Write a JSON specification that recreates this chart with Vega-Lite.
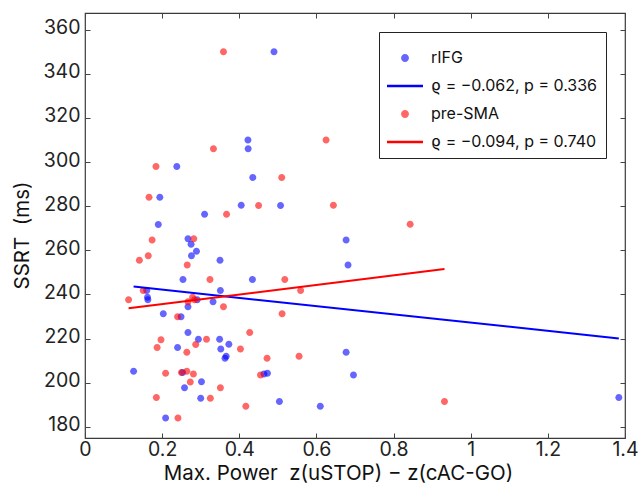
{
  "$schema": "https://vega.github.io/schema/vega-lite/v6.json",
  "width": 540,
  "height": 425,
  "autosize": {"type": "none"},
  "padding": {"left": 85, "top": 13, "right": 13, "bottom": 54},
  "background": "white",
  "config": {
    "font": "Inter",
    "view": {"stroke": "#3a3a3a", "strokeWidth": 1.2},
    "axis": {"grid": false, "domain": false, "tickSize": -5, "tickColor": "#444", "tickWidth": 1, "labelColor": "#222", "titleColor": "#111", "titleFontWeight": "normal", "labelFont": "Inter", "titleFont": "Inter"}
  },
  "layer": [
    {
      "data": {"values": [
        {"x": 0.490, "y": 350, "series": "rIFG"},
        {"x": 0.4225, "y": 310, "series": "rIFG"},
        {"x": 0.423, "y": 306, "series": "rIFG"},
        {"x": 0.238, "y": 298, "series": "rIFG"},
        {"x": 0.435, "y": 293, "series": "rIFG"},
        {"x": 0.194, "y": 284, "series": "rIFG"},
        {"x": 0.405, "y": 280.4, "series": "rIFG"},
        {"x": 0.507, "y": 280.3, "series": "rIFG"},
        {"x": 0.310, "y": 276.3, "series": "rIFG"},
        {"x": 0.190, "y": 271.7, "series": "rIFG"},
        {"x": 0.267, "y": 265.3, "series": "rIFG"},
        {"x": 0.275, "y": 262.8, "series": "rIFG"},
        {"x": 0.289, "y": 259.6, "series": "rIFG"},
        {"x": 0.276, "y": 257.5, "series": "rIFG"},
        {"x": 0.350, "y": 255.5, "series": "rIFG"},
        {"x": 0.254, "y": 246.8, "series": "rIFG"},
        {"x": 0.434, "y": 246.8, "series": "rIFG"},
        {"x": 0.160, "y": 241.8, "series": "rIFG"},
        {"x": 0.351, "y": 241.8, "series": "rIFG"},
        {"x": 0.162, "y": 238.7, "series": "rIFG"},
        {"x": 0.163, "y": 237.6, "series": "rIFG"},
        {"x": 0.291, "y": 237.6, "series": "rIFG"},
        {"x": 0.332, "y": 236.7, "series": "rIFG"},
        {"x": 0.267, "y": 234.4, "series": "rIFG"},
        {"x": 0.203, "y": 231.3, "series": "rIFG"},
        {"x": 0.249, "y": 229.9, "series": "rIFG"},
        {"x": 0.267, "y": 222.8, "series": "rIFG"},
        {"x": 0.294, "y": 219.7, "series": "rIFG"},
        {"x": 0.349, "y": 219.7, "series": "rIFG"},
        {"x": 0.373, "y": 217.5, "series": "rIFG"},
        {"x": 0.240, "y": 216.0, "series": "rIFG"},
        {"x": 0.352, "y": 215.3, "series": "rIFG"},
        {"x": 0.677, "y": 213.8, "series": "rIFG"},
        {"x": 0.366, "y": 212.0, "series": "rIFG"},
        {"x": 0.363, "y": 211.1, "series": "rIFG"},
        {"x": 0.126, "y": 205.2, "series": "rIFG"},
        {"x": 0.253, "y": 204.7, "series": "rIFG"},
        {"x": 0.464, "y": 204.0, "series": "rIFG"},
        {"x": 0.473, "y": 204.3, "series": "rIFG"},
        {"x": 0.696, "y": 203.5, "series": "rIFG"},
        {"x": 0.302, "y": 200.5, "series": "rIFG"},
        {"x": 0.258, "y": 197.8, "series": "rIFG"},
        {"x": 0.300, "y": 193.0, "series": "rIFG"},
        {"x": 0.504, "y": 191.5, "series": "rIFG"},
        {"x": 0.610, "y": 189.4, "series": "rIFG"},
        {"x": 0.209, "y": 184.1, "series": "rIFG"},
        {"x": 0.677, "y": 264.7, "series": "rIFG"},
        {"x": 0.682, "y": 253.4, "series": "rIFG"},
        {"x": 1.384, "y": 193.4, "series": "rIFG"},
        {"x": 0.359, "y": 350, "series": "pre-SMA"},
        {"x": 0.333, "y": 306, "series": "pre-SMA"},
        {"x": 0.625, "y": 310, "series": "pre-SMA"},
        {"x": 0.184, "y": 298, "series": "pre-SMA"},
        {"x": 0.510, "y": 293, "series": "pre-SMA"},
        {"x": 0.166, "y": 284, "series": "pre-SMA"},
        {"x": 0.450, "y": 280.3, "series": "pre-SMA"},
        {"x": 0.644, "y": 280.4, "series": "pre-SMA"},
        {"x": 0.367, "y": 276.3, "series": "pre-SMA"},
        {"x": 0.843, "y": 271.8, "series": "pre-SMA"},
        {"x": 0.282, "y": 265.3, "series": "pre-SMA"},
        {"x": 0.174, "y": 264.7, "series": "pre-SMA"},
        {"x": 0.141, "y": 255.5, "series": "pre-SMA"},
        {"x": 0.164, "y": 257.5, "series": "pre-SMA"},
        {"x": 0.265, "y": 253.4, "series": "pre-SMA"},
        {"x": 0.324, "y": 246.8, "series": "pre-SMA"},
        {"x": 0.518, "y": 246.8, "series": "pre-SMA"},
        {"x": 0.151, "y": 241.8, "series": "pre-SMA"},
        {"x": 0.559, "y": 241.8, "series": "pre-SMA"},
        {"x": 0.113, "y": 237.6, "series": "pre-SMA"},
        {"x": 0.279, "y": 238.7, "series": "pre-SMA"},
        {"x": 0.284, "y": 237.6, "series": "pre-SMA"},
        {"x": 0.267, "y": 236.7, "series": "pre-SMA"},
        {"x": 0.359, "y": 234.4, "series": "pre-SMA"},
        {"x": 0.511, "y": 231.3, "series": "pre-SMA"},
        {"x": 0.240, "y": 229.9, "series": "pre-SMA"},
        {"x": 0.427, "y": 222.8, "series": "pre-SMA"},
        {"x": 0.197, "y": 219.5, "series": "pre-SMA"},
        {"x": 0.315, "y": 219.7, "series": "pre-SMA"},
        {"x": 0.287, "y": 217.4, "series": "pre-SMA"},
        {"x": 0.187, "y": 216.0, "series": "pre-SMA"},
        {"x": 0.403, "y": 215.3, "series": "pre-SMA"},
        {"x": 0.264, "y": 213.8, "series": "pre-SMA"},
        {"x": 0.472, "y": 211.1, "series": "pre-SMA"},
        {"x": 0.555, "y": 212.0, "series": "pre-SMA"},
        {"x": 0.209, "y": 204.3, "series": "pre-SMA"},
        {"x": 0.250, "y": 204.7, "series": "pre-SMA"},
        {"x": 0.264, "y": 205.2, "series": "pre-SMA"},
        {"x": 0.281, "y": 204.0, "series": "pre-SMA"},
        {"x": 0.455, "y": 203.5, "series": "pre-SMA"},
        {"x": 0.273, "y": 200.4, "series": "pre-SMA"},
        {"x": 0.351, "y": 197.8, "series": "pre-SMA"},
        {"x": 0.185, "y": 193.4, "series": "pre-SMA"},
        {"x": 0.325, "y": 193.0, "series": "pre-SMA"},
        {"x": 0.417, "y": 189.4, "series": "pre-SMA"},
        {"x": 0.241, "y": 184.1, "series": "pre-SMA"},
        {"x": 0.932, "y": 191.5, "series": "pre-SMA"}
      ]},
      "mark": {"type": "point", "filled": true, "opacity": 1, "size": 1012, "strokeWidth": 0},
      "encoding": {
        "x": {"field": "x", "type": "quantitative",
          "scale": {"domain": [0, 1.4], "nice": false, "zero": false},
          "axis": {"orient": "bottom", "values": [0, 0.2, 0.4, 0.6, 0.8, 1, 1.2, 1.4], "format": "~g", "labelFontSize": 19.5, "labelPadding": 7, "labelFlush": false, "title": "Max. Power\u00a0\u00a0z(uSTOP) − z(cAC-GO)", "titleFontSize": 20.5, "titlePadding": 5, "titleX": 253}},
        "y": {"field": "y", "type": "quantitative",
          "scale": {"domain": [175, 367.5], "nice": false, "zero": false},
          "axis": {"orient": "left", "values": [180, 200, 220, 240, 260, 280, 300, 320, 340, 360], "labelFontSize": 19.5, "labelPadding": 10, "labelOffset": -2, "labelFlush": false, "title": "SSRT\u00a0\u00a0(ms)", "titleFontSize": 20.5, "titlePadding": 11, "titleY": 222}},
        "color": {"field": "series", "type": "nominal",
          "scale": {"domain": ["rIFG", "ϱ = −0.062, p = 0.336", "pre-SMA", "ϱ = −0.094, p = 0.740"], "range": ["rgba(0,0,255,0.6)", "#0000ff", "rgba(255,0,0,0.6)", "#ff0000"]},
          "legend": {
            "title": null, "orient": "top-right", "offset": 19, "padding": 8,
            "strokeColor": "#222", "fillColor": "white", "cornerRadius": 0,
            "symbolSize": 1296, "symbolStrokeWidth": 0, "labelFont": "Inter", "labelFontSize": 16, "labelColor": "#111", "labelLimit": 400,
            "rowPadding": 2, "labelOffset": 8
          }},
        "shape": {"field": "series", "type": "nominal",
          "scale": {"domain": ["rIFG", "ϱ = −0.062, p = 0.336", "pre-SMA", "ϱ = −0.094, p = 0.740"],
            "range": ["M0.22,0A0.22,0.22,0,1,1,-0.22,0A0.22,0.22,0,1,1,0.22,0Z", "M-1,-0.07H1V0.07H-1Z", "M0.22,0A0.22,0.22,0,1,1,-0.22,0A0.22,0.22,0,1,1,0.22,0Z", "M-1,-0.07H1V0.07H-1Z"]},
          "legend": {
            "title": null, "orient": "top-right", "offset": 19, "padding": 8,
            "strokeColor": "#222", "fillColor": "white", "cornerRadius": 0,
            "symbolSize": 1296, "symbolStrokeWidth": 0, "labelFont": "Inter", "labelFontSize": 16, "labelColor": "#111", "labelLimit": 400,
            "rowPadding": 2, "labelOffset": 8
          }}
      }
    },
    {
      "data": {"values": [
        {"x": 0.126, "y": 243.6, "series": "ϱ = −0.062, p = 0.336"},
        {"x": 1.384, "y": 220.1, "series": "ϱ = −0.062, p = 0.336"},
        {"x": 0.113, "y": 233.8, "series": "ϱ = −0.094, p = 0.740"},
        {"x": 0.932, "y": 251.5, "series": "ϱ = −0.094, p = 0.740"}
      ]},
      "mark": {"type": "line", "strokeWidth": 2},
      "encoding": {
        "x": {"field": "x", "type": "quantitative",
          "axis": {"orient": "top", "values": [0, 0.2, 0.4, 0.6, 0.8, 1, 1.2, 1.4], "labels": false, "title": null}},
        "y": {"field": "y", "type": "quantitative",
          "axis": {"orient": "right", "values": [180, 200, 220, 240, 260, 280, 300, 320, 340, 360], "labels": false, "title": null}},
        "color": {"field": "series", "type": "nominal", "legend": null}
      }
    }
  ],
  "resolve": {"axis": {"x": "independent", "y": "independent"}}
}
